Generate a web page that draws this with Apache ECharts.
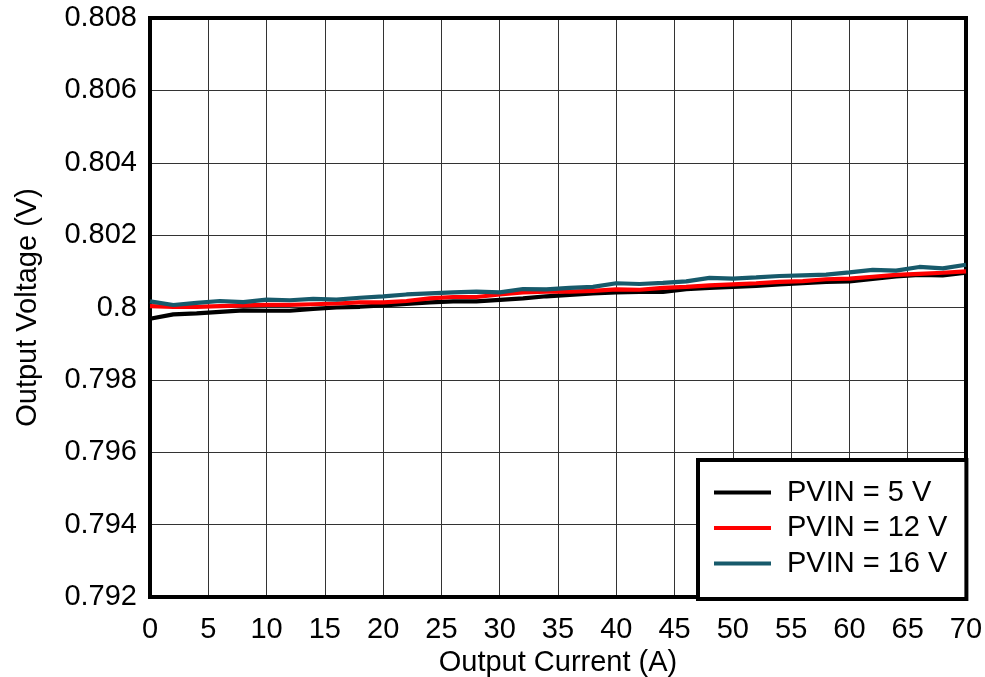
<!DOCTYPE html>
<html>
<head>
<meta charset="utf-8">
<script src="https://cdn.jsdelivr.net/npm/echarts@6/dist/echarts.min.js"></script>
<style>
html,body{margin:0;padding:0;background:#fff;}
#chart{width:985px;height:677px;}
</style>
</head>
<body>
<div id="chart"></div>
<script>
const currents = [0,2,4,6,8,10,12,14,16,18,20,22,24,26,28,30,32,34,36,38,40,42,44,46,48,50,52,54,56,58,60,62,64,66,68,70];
const pvin5 = [0.79969,0.79981,0.79984,0.79988,0.79992,0.79991,0.79991,0.79996,0.80000,0.80002,0.80006,0.80010,0.80014,0.80017,0.80017,0.80021,0.80025,0.80031,0.80035,0.80039,0.80042,0.80043,0.80043,0.80051,0.80054,0.80057,0.80060,0.80064,0.80067,0.80071,0.80072,0.80079,0.80086,0.80090,0.80089,0.80096];
const pvin12 = [0.80004,0.80002,0.80002,0.80004,0.80006,0.80007,0.80007,0.80009,0.80011,0.80014,0.80014,0.80018,0.80025,0.80029,0.80029,0.80036,0.80042,0.80044,0.80044,0.80046,0.80050,0.80049,0.80054,0.80057,0.80061,0.80064,0.80067,0.80071,0.80073,0.80078,0.80080,0.80085,0.80090,0.80093,0.80096,0.80100];
const pvin16 = [0.80017,0.80007,0.80013,0.80018,0.80015,0.80022,0.80020,0.80024,0.80022,0.80027,0.80031,0.80036,0.80039,0.80042,0.80044,0.80042,0.80051,0.80050,0.80054,0.80057,0.80067,0.80065,0.80068,0.80072,0.80082,0.80080,0.80083,0.80087,0.80089,0.80091,0.80097,0.80104,0.80102,0.80112,0.80108,0.80118];
const seriesNames = ['PVIN = 5 V','PVIN = 12 V','PVIN = 16 V'];
const seriesColors = ['#000000','#ff0000','#175a6b'];
const xTicks = {min:0,max:70,interval:5};
const yTicks = {min:0.792,max:0.808,interval:0.002};

const font = 'Liberation Sans, Arial, sans-serif';
const fs = 29;
const allData = [pvin5, pvin12, pvin16];
const chart = echarts.init(document.getElementById('chart'));
chart.setOption({
  animation:false,
  backgroundColor:'#fff',
  grid:{left:150,top:18,right:19,bottom:80,show:true,borderColor:'#000',borderWidth:4,backgroundColor:'transparent',z:3,
    containLabel:false,outerBoundsMode:'none'},
  xAxis:{type:'value',min:xTicks.min,max:xTicks.max,interval:xTicks.interval,
    name:'Output Current (A)',nameLocation:'middle',nameGap:44,
    nameTextStyle:{fontFamily:font,fontSize:fs,color:'#000'},
    axisLine:{show:false},axisTick:{show:false},
    axisLabel:{fontFamily:font,fontSize:fs,color:'#000',margin:18},
    splitLine:{show:true,lineStyle:{color:'#333',width:1}}},
  yAxis:{type:'value',min:yTicks.min,max:yTicks.max,interval:yTicks.interval,
    name:'Output Voltage (V)',nameLocation:'middle',nameGap:108,
    nameTextStyle:{fontFamily:font,fontSize:fs,color:'#000'},
    axisLine:{show:false},axisTick:{show:false},
    axisLabel:{fontFamily:font,fontSize:fs,color:'#000',margin:13,
      formatter:v=>String(parseFloat(v.toFixed(3)))},
    splitLine:{show:true,lineStyle:{color:'#333',width:1}}},
  legend:{show:true,left:698,top:460,orient:'vertical',
    padding:[18,19,21,16],itemGap:6.5,itemWidth:57,itemHeight:4,icon:'rect',
    backgroundColor:'#fff',borderColor:'#000',borderWidth:4,
    textStyle:{fontFamily:font,fontSize:fs,color:'#000',lineHeight:29,padding:[0,0,0,11]},
    data:seriesNames},
  series:seriesNames.map((n,i)=>({
    name:n,type:'line',showSymbol:false,symbol:'none',
    data:currents.map((c,j)=>[c,allData[i][j]]),
    lineStyle:{color:seriesColors[i],width:4.2},itemStyle:{color:seriesColors[i]}
  }))
});
</script>
</body>
</html>
